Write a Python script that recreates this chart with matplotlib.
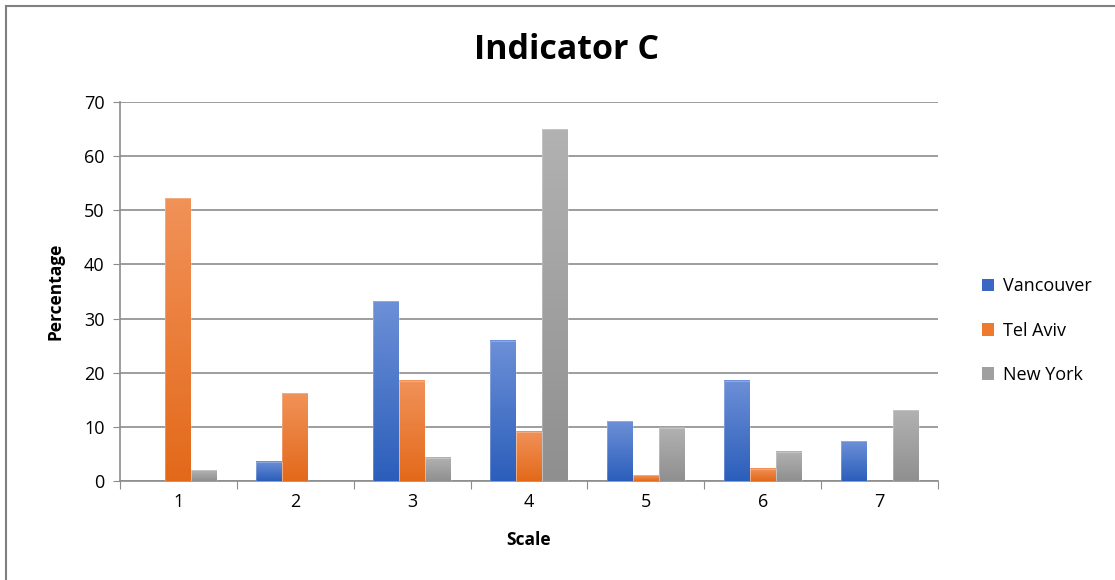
import numpy as np
import matplotlib
matplotlib.use("Agg")
from matplotlib import pyplot as plt
from matplotlib.colors import LinearSegmentedColormap
from matplotlib.lines import Line2D
from matplotlib.patches import Patch

# data per scale step
scale = ["1", "2", "3", "4", "5", "6", "7"]
vancouver = [0, 3.6, 33.2, 25.9, 11.0, 18.5, 7.3]
tel_aviv = [52.2, 16.2, 18.5, 9.1, 1.1, 2.3, 0]
new_york = [2.0, 0, 4.3, 65.0, 9.8, 5.4, 13.1]
cities = ["Vancouver", "Tel Aviv", "New York"]

# (top colour, bottom colour) for the gradient fill
shades = [("#6d90d7", "#2b5ebb"),
          ("#f19259", "#e3691a"),
          ("#b2b2b2", "#8f8f8f")]
solid = ["#3a67c4", "#ee7a2e", "#a0a0a0"]

plt.rcParams['font.family'] = ['Open Sans', 'DejaVu Sans']

fig = plt.figure(figsize=(11.15, 5.8), dpi=100)
ax = fig.add_axes([0.1076, 0.1707, 0.7337, 0.6534])

n = len(scale)
width = 1 / 4.5
series = [vancouver, tel_aviv, new_york]
grad = np.linspace(1, 0, 256).reshape(-1, 1)

for i, vals in enumerate(series):
    cmap = LinearSegmentedColormap.from_list("g%d" % i, [shades[i][1], shades[i][0]])
    for j, v in enumerate(vals):
        if v <= 0:
            continue
        x0 = j + 0.5 - 1.5 * width + i * width
        ax.imshow(grad, cmap=cmap, extent=[x0, x0 + width, 0, v],
                  aspect='auto', zorder=3, vmin=0, vmax=1, interpolation='bilinear')
        ax.add_patch(plt.Rectangle((x0, 0), width, v, fill=False,
                                   edgecolor='white', lw=0.5, alpha=0.35, zorder=4))

ax.set_xlim(0, n)
ax.set_ylim(0, 70)
ax.set_yticks(range(0, 71, 10))
ax.tick_params(axis='y', labelsize=13, length=5, color='#8c8c8c', pad=6)
ax.set_xticks(np.arange(n + 1))
ax.set_xticklabels([])
ax.set_xticks(np.arange(n) + 0.5, minor=True)
ax.set_xticklabels(scale, minor=True)
ax.tick_params(axis='x', which='major', length=6, color='#8c8c8c')
ax.tick_params(axis='x', which='minor', length=0, labelsize=13, pad=9)
ax.grid(axis='y', color='#8c8c8c', lw=1.2, zorder=0)
ax.set_axisbelow(True)
for s in ['top', 'right']:
    ax.spines[s].set_visible(False)
for s in ['left', 'bottom']:
    ax.spines[s].set_color('#8c8c8c')
    ax.spines[s].set_linewidth(1.2)

ax.set_xlabel("Scale", fontsize=12.5, fontweight='bold', labelpad=14)
ax.set_ylabel("Percentage", fontsize=12.5, fontweight='bold', labelpad=14)
fig.text(0.508, 0.913, "Indicator C", ha='center', va='center',
         fontsize=24.5, fontweight='bold')

handles = [Patch(facecolor=c, edgecolor='none') for c in solid]
fig.legend(handles, cities, loc='center left', bbox_to_anchor=(0.866, 0.43),
           frameon=False, fontsize=13, handlelength=0.7, handleheight=0.7,
           labelspacing=1.45, handletextpad=0.45)

# outer chart frame (top and left edges)
fig.add_artist(Line2D([0.0055, 1.0], [0.9895, 0.9895], color='#808080', lw=1.5))
fig.add_artist(Line2D([0.0055, 0.0055], [0.0, 0.9895], color='#808080', lw=1.5))

fig.savefig("out.png", dpi=100)
